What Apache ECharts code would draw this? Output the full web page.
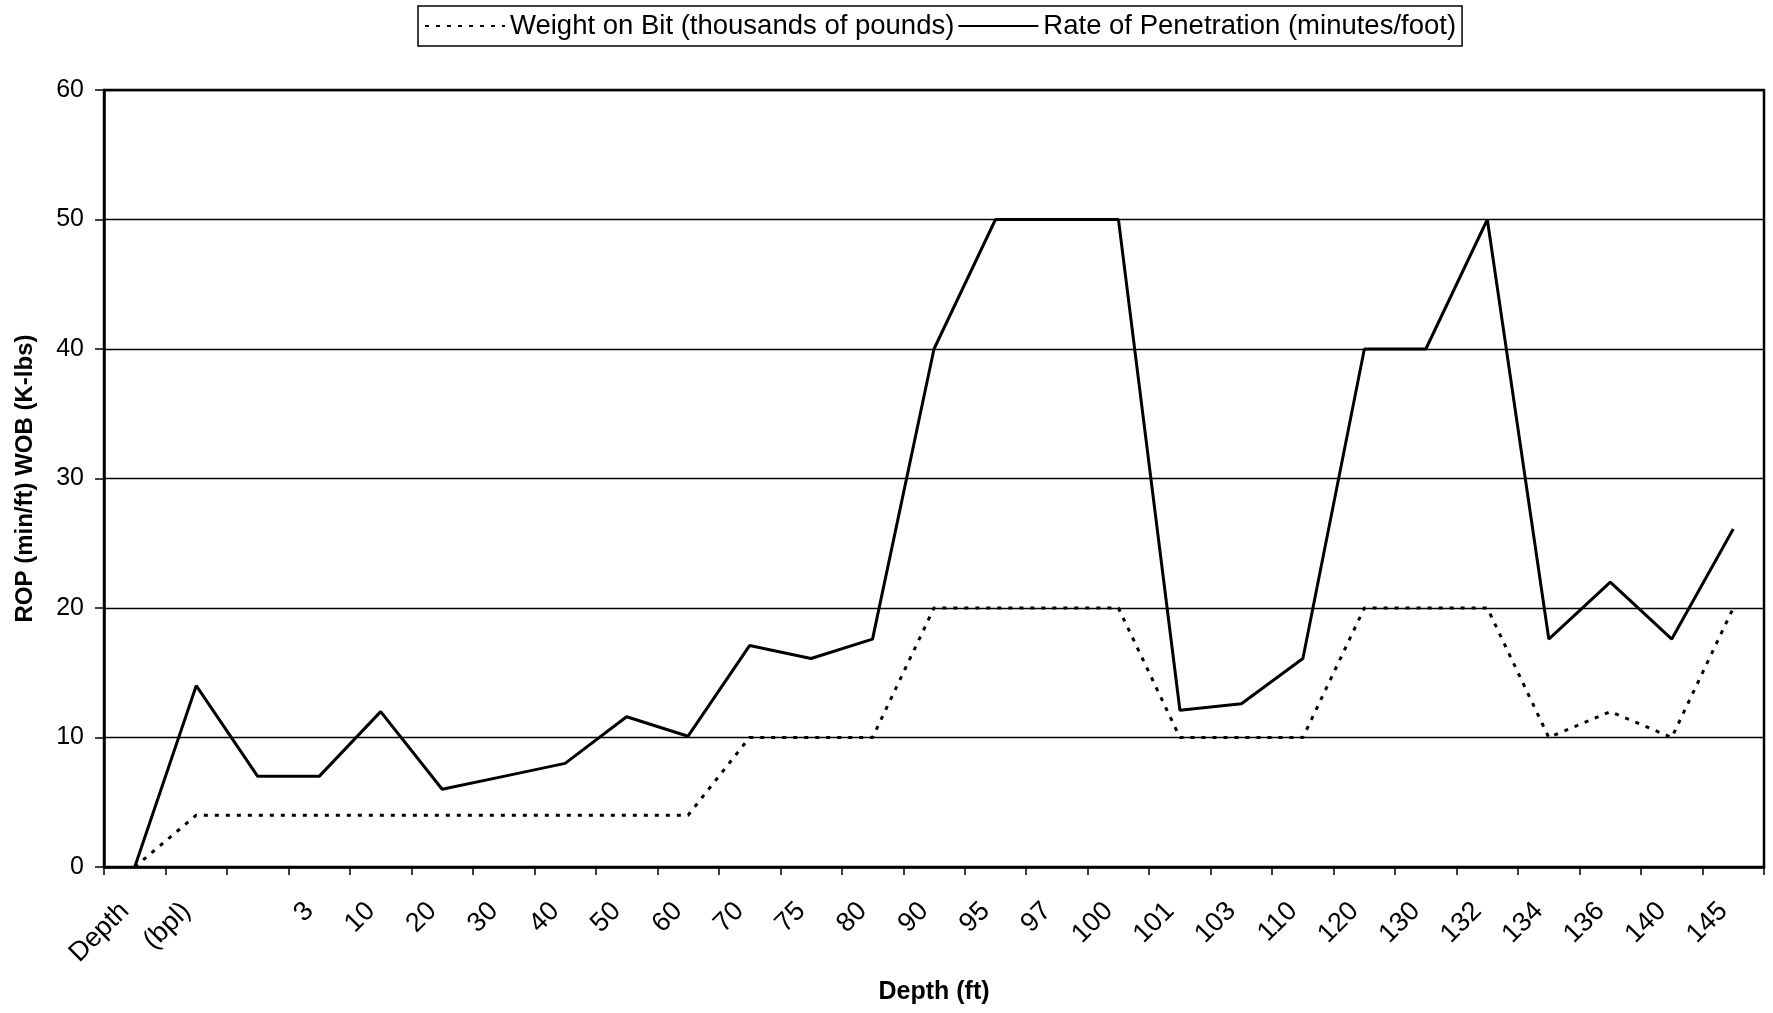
<!DOCTYPE html>
<html>
<head>
<meta charset="utf-8">
<script src="https://cdn.jsdelivr.net/npm/echarts@6/dist/echarts.min.js"></script>
<style>
html,body{margin:0;padding:0;background:#fff;}
#chart{width:1773px;height:1013px;}
</style>
</head>
<body>
<div id="chart"></div>
<script>
const categories = ["Depth","(bpl)","","3","10","20","30","40","50","60","70","75","80","90","95","97","100","101","103","110","120","130","132","134","136","140","145"];
const wob = [0,4,4,4,4,4,4,4,4,4,10,10,10,20,20,20,20,10,10,10,20,20,20,10,12,10,20];
const rop = [0,14,7,7,12,6,7,8,11.6,10.1,17.1,16.1,17.6,40,50,50,50,12.1,12.6,16.1,40,40,50,17.6,22,17.6,26.1];
const yTicks = {min:0, max:60, interval:10};

const FONT = '"Liberation Sans", Arial, sans-serif';
const chart = echarts.init(document.getElementById('chart'), null, {renderer:'canvas'});
chart.setOption({
  animation:false,
  backgroundColor:'#fff',
  textStyle:{fontFamily:FONT, color:'#000'},
  legend:{
    top:6, left:418,
    itemWidth:80, itemHeight:10, itemGap:3,
    padding:[6,6,6,6],
    borderColor:'#000', borderWidth:1.5,
    itemStyle:{color:'transparent', borderWidth:0, opacity:0},
    textStyle:{fontFamily:FONT, fontSize:27.5, color:'#000', padding:[2,0,0,0]},
    data:['Weight on Bit (thousands of pounds)','Rate of Penetration (minutes/foot)']
  },
  grid:{left:104, right:9, top:90, bottom:146, containLabel:false, outerBoundsMode:'none',
        show:true, borderColor:'#000', borderWidth:2.5, backgroundColor:'transparent'},
  xAxis:{
    type:'category', data:categories, boundaryGap:true,
    name:'Depth (ft)', nameLocation:'middle', nameGap:113,
    nameTextStyle:{fontFamily:FONT, fontSize:25, fontWeight:'bold', color:'#000'},
    axisLine:{lineStyle:{color:'#000', width:2.5}},
    axisTick:{show:true, inside:false, length:8, alignWithLabel:false, lineStyle:{color:'#000', width:1.5}},
    axisLabel:{rotate:45, interval:0, margin:30, padding:[0,14,0,0], fontFamily:FONT, fontSize:27, color:'#000'},
    splitLine:{show:false}
  },
  yAxis:{
    type:'value', min:yTicks.min, max:yTicks.max, interval:yTicks.interval,
    name:'ROP (min/ft) WOB (K-lbs)', nameLocation:'middle', nameGap:67,
    nameTextStyle:{fontFamily:FONT, fontSize:24, fontWeight:'bold', color:'#000'},
    axisLine:{show:true, lineStyle:{color:'#000', width:2.5}},
    axisTick:{show:true, inside:false, length:9, lineStyle:{color:'#000', width:1.5}},
    axisLabel:{margin:20, fontFamily:FONT, fontSize:25, color:'#000'},
    splitLine:{show:true, lineStyle:{color:'#000', width:1.4}}
  },
  series:[
    {name:'Weight on Bit (thousands of pounds)', type:'line', data:wob, symbol:'none',
     lineStyle:{color:'#000', width:3, type:[4,7]}, itemStyle:{color:'#000'}},
    {name:'Rate of Penetration (minutes/foot)', type:'line', data:rop, symbol:'none',
     lineStyle:{color:'#000', width:3, type:'solid'}, itemStyle:{color:'#000'}}
  ]
});
</script>
</body>
</html>
